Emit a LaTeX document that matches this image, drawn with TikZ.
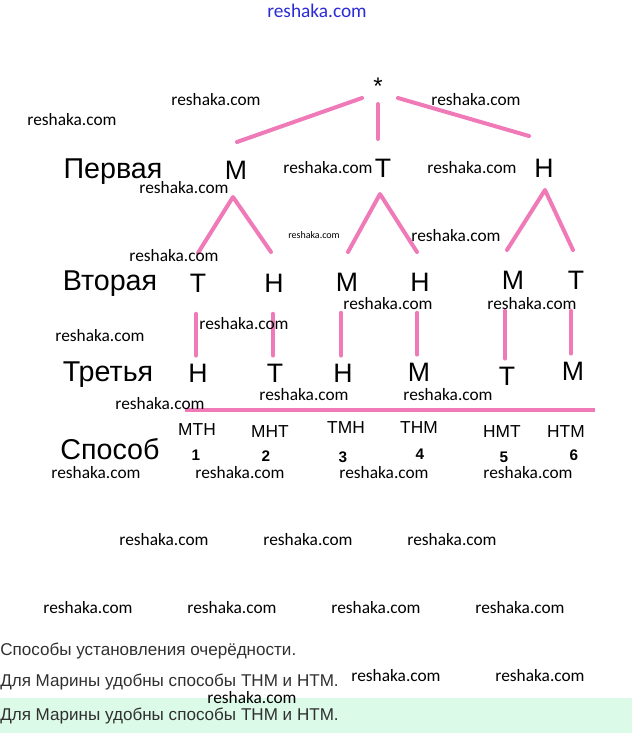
\documentclass[tikz,border=0pt]{standalone}
\usepackage{fontspec}
\setmainfont{Liberation Sans}
\newfontfamily\wmfont{Carlito}
\usetikzlibrary{calc}
\definecolor{treepink}{HTML}{F07AB8}
\definecolor{mint}{HTML}{DCFAE8}
\definecolor{captgray}{HTML}{303030}
\definecolor{wmblue}{HTML}{2A2AD8}

\begin{document}
\begin{tikzpicture}[
  x=0.75pt,y=-0.75pt,
  edge/.style={line width=3pt,treepink,line cap=round,line join=round},
  letter/.style={font=\fontsize{20}{22}\selectfont,inner sep=0pt},
  rowname/.style={font=\fontsize{21.5}{24}\selectfont,inner sep=0pt},
  order/.style={font=\fontsize{13}{15}\selectfont,inner sep=0pt},
  num/.style={font=\bfseries\fontsize{11.5}{13}\selectfont,inner sep=0pt},
  wm/.style={font=\wmfont\fontsize{13}{15}\selectfont,inner sep=0pt},
  capt/.style={font=\fontsize{12.8}{15}\selectfont,captgray,anchor=west,inner sep=0pt}
]
  \useasboundingbox (0,0) rectangle (632,733);
  \fill[mint] (0,698) rectangle (632,733);

  % Root and the three levels of the tree.
  \node[font=\fontsize{18}{20}\selectfont,inner sep=0pt] (star) at (378,86) {*};

  \node[letter] (m1) at (236,170) {М};
  \node[letter] (t1) at (383,168) {Т};
  \node[letter] (h1) at (544,168) {Н};

  \node[letter] (t2) at (198,283) {Т};
  \node[letter] (h2) at (274,283) {Н};
  \node[letter] (m2) at (347,282) {М};
  \node[letter] (h2b) at (420,282) {Н};
  \node[letter] (m2b) at (513,280) {М};
  \node[letter] (t2b) at (576,280) {Т};

  \node[letter] (h3) at (198,373) {Н};
  \node[letter] (t3) at (275,373) {Т};
  \node[letter] (h3b) at (343,373) {Н};
  \node[letter] (m3) at (419,372) {М};
  \node[letter] (t3b) at (507,376) {Т};
  \node[letter] (m3b) at (573,371) {М};

  % Row names on the left.
  \node[rowname] (first) at (113,172) {Первая};
  \node[rowname] (second) at (110,284) {Вторая};
  \node[rowname] (third) at (108,375) {Третья};
  \node[rowname] (way) at (110,449) {Способ};

  % Branches from the root.
  \draw[edge] ([shift={(-16,12)}]star.center) -- ([shift={(1,-28)}]m1.center);
  \draw[edge] ([shift={(0,18)}]star.center) -- ([shift={(-5,-29)}]t1.center);
  \draw[edge] ([shift={(20,12)}]star.center) -- ([shift={(-15,-32)}]h1.center);

  % Branches to the second choice.
  \draw[edge] ([shift={(0,-30)}]t2.center) -- ([shift={(-3,27)}]m1.center)
    -- ([shift={(-3,-31)}]h2.center);
  \draw[edge] ([shift={(1,-30)}]m2.center) -- ([shift={(-3,26)}]t1.center)
    -- ([shift={(-3,-30)}]h2b.center);
  \draw[edge] ([shift={(-6,-30)}]m2b.center) -- ([shift={(1,22)}]h1.center)
    -- ([shift={(-3,-30)}]t2b.center);

  % Only one way left for the third.
  \foreach \a/\b in {t2/h3,h2/t3,m2/h3b,h2b/m3,m2b/t3b,t2b/m3b}
    \draw[edge,shorten <=16pt,shorten >=6pt]
      ([xshift=-1.5]\a.south -| \b.north) -- ([xshift=-1.5]\b.north);

  \draw[edge,line cap=butt] (185,410) -- (595,410);

  % Resulting orders and their numbers.
  \foreach \w/\x/\y [count=\i] in {МТН/197/430,МНТ/270/432,ТМН/346/428,
      ТНМ/419/428,НМТ/502/432,НТМ/566/432}
    \node[order] (ord\i) at (\x,\y) {\w};
  \foreach \x/\y [count=\i] in {196/455,266/456,343/457,420/454,504/457,574/455}
    \node[num] (no\i) at (\x,\y) {\i};

  % Caption lines.
  \node[capt] (capA) at (0,651) {Способы установления очерёдности.};
  \node[capt] (capB) at (0,682) {Для Марины удобны способы ТНМ и НТМ.};
  \node[capt] (capC) at (0,716) {Для Марины удобны способы ТНМ и НТМ.};

  % Watermarks.
  \node[wm,wmblue,font=\wmfont\fontsize{14.5}{16}\selectfont] (wmtop) at (317,11) {reshaka.com};
  \foreach \x/\y [count=\i] in {216/100,476/100,72/120,328/168,472/168,184/188,
      174/256,456/236,388/304,532/304,244/324,100/336,160/404,304/395,448/395,
      96/473,240/473,384/473,528/473,164/540,308/540,452/540,88/608,232/608,
      376/608,520/608,396/676,540/676,252/698}
    \node[wm] (wm\i) at (\x,\y) {reshaka.com};
  \node[wm,font=\wmfont\fontsize{7.5}{8}\selectfont] (wmsmall) at (314,235) {reshaka.com};
\end{tikzpicture}
\end{document}
